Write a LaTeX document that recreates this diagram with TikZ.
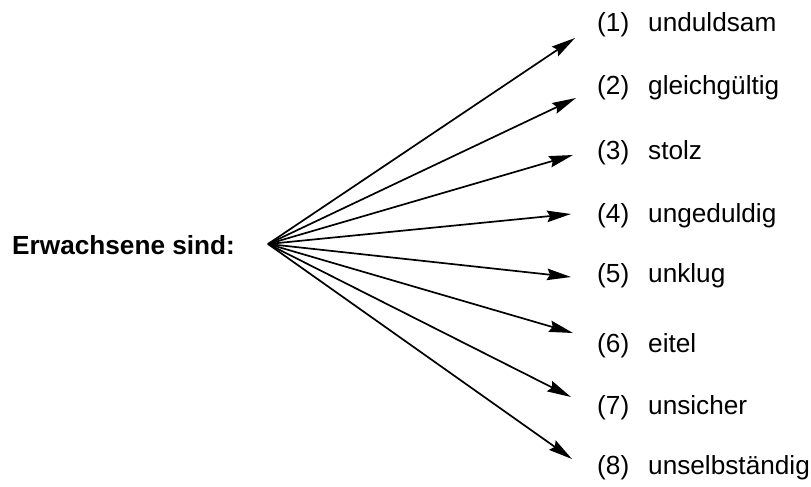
\documentclass[tikz,border=0pt]{standalone}
\usepackage{fontspec}
\setmainfont{Liberation Sans}
\usetikzlibrary{arrows.meta,positioning}

\begin{document}
\begin{tikzpicture}[
  x=1pt,y=-1pt,
  lab/.style={inner sep=0pt,anchor=base west,font=\fontsize{26.2}{30}\selectfont},
  head/.style={inner sep=0pt,anchor=base west,font=\fontsize{26.2}{30}\selectfont\bfseries},
  ray/.style={line width=1.7pt,-{Stealth[length=24pt,width=11.5pt,inset=3pt]}}
]
\useasboundingbox (0,0) rectangle (811,487);

% ---------------- left side ----------------
\node[head] (erw) at (12,254) {Erwachsene sind:};
\coordinate (hub) at (268,244);

% ---------------- arrow tips ----------------
\coordinate (t1) at (575,38);
\coordinate (t2) at (576,98);
\coordinate (t3) at (573,155);
\coordinate (t4) at (571,214);
\coordinate (t5) at (571,277);
\coordinate (t6) at (573,333);
\coordinate (t7) at (571,397);
\coordinate (t8) at (572,459);

\draw[ray] (hub) -- (t1);
\draw[ray] (hub) -- (t2);
\draw[ray] (hub) -- (t3);
\draw[ray] (hub) -- (t4);
\draw[ray] (hub) -- (t5);
\draw[ray] (hub) -- (t6);
\draw[ray] (hub) -- (t7);
\draw[ray] (hub) -- (t8);

% ---------------- answers ----------------
\node[lab] (a1) at (597,32)  {\makebox[51pt][l]{(1)}unduldsam};
\node[lab] (a2) at (597,95)  {\makebox[51pt][l]{(2)}gleichgültig};
\node[lab] (a3) at (597,159) {\makebox[51pt][l]{(3)}stolz};
\node[lab] (a4) at (597,222) {\makebox[51pt][l]{(4)}ungeduldig};
\node[lab] (a5) at (597,282) {\makebox[51pt][l]{(5)}unklug};
\node[lab] (a6) at (597,352) {\makebox[51pt][l]{(6)}eitel};
\node[lab] (a7) at (597,414) {\makebox[51pt][l]{(7)}unsicher};
\node[lab] (a8) at (597,474) {\makebox[51pt][l]{(8)}unselbständig};

\end{tikzpicture}
\end{document}
